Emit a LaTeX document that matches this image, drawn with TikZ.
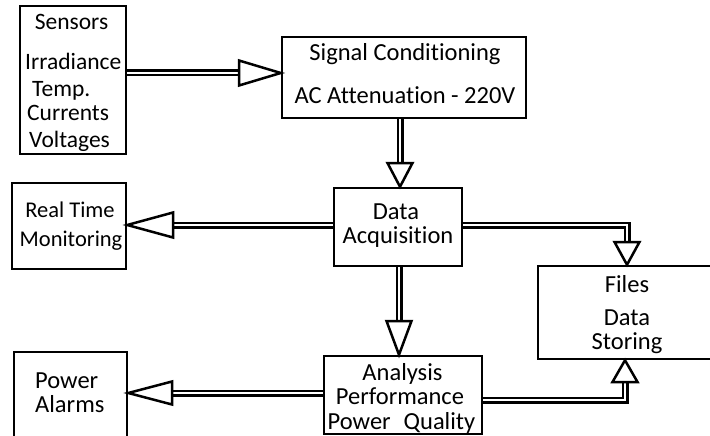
\documentclass[tikz,border=0pt]{standalone}
\usepackage{fontspec}
\setmainfont{Carlito}[Ligatures={NoCommon}]
\usetikzlibrary{calc}
\begin{document}
\begin{tikzpicture}[x=1pt,y=-1pt,
  box/.style={draw,line width=2.5pt,inner sep=0pt,minimum width=#1},
  txt/.style={inner sep=0pt,anchor=base,font=\fontsize{24.5}{26}\selectfont},
  txtw/.style={txt,anchor=base west},
  small/.style={font=\fontsize{23.5}{25}\selectfont},
  smaller/.style={font=\fontsize{22.5}{24}\selectfont},
  shaft/.style={draw,double=white,double distance=2pt,line width=2.5pt},
  headst/.style={draw,fill=white,line width=2.5pt,line join=miter}]
\useasboundingbox[fill=white] (0,0) rectangle (710,436);
% boxes
\node[box=106pt,minimum height=148pt] (sens)  at (73,80)    {};
\node[box=244pt,minimum height=81pt]  (sig)   at (404,77.5) {};
\node[box=114pt,minimum height=86pt]  (rtm)   at (69,226)   {};
\node[box=128pt,minimum height=78pt]  (da)    at (398,227)  {};
\node[box=178pt,minimum height=93pt]  (files) at (627,312.5){};
\node[box=158pt,minimum height=78pt]  (ana)   at (403,395)  {};
\node[box=113pt,minimum height=86pt]  (pa)    at (70.5,395) {};
% texts
\node[txt,small]  (sens0) at (71.5,30) {Sensors};
\node[txtw,small] (sens1) at (25,70)   {Irradiance};
\node[txtw,small] (sens2) at (32,96)   {Temp.};
\node[txtw,small] (sens3) at (27,121)  {Currents};
\node[txtw,small] (sens4) at (29,147)  {Voltages};
\node[txt]  (sig1)  at (405,61)  {Signal Conditioning};
\node[txt]  (sig2)  at (405,103) {AC Attenuation - 220V};
\node[txt,smaller]  (rtm1)  at (70,217)  {Real Time};
\node[txt,smaller]  (rtm2)  at (71,246)  {Monitoring};
\node[txt]  (da1)   at (396,219) {Data};
\node[txt]  (da2)   at (398,243) {Acquisition};
\node[txt]  (fil1)  at (627,292) {Files};
\node[txt]  (fil2)  at (627,325) {Data};
\node[txt]  (fil3)  at (627,349) {Storing};
\node[txt]  (ana1)  at (402.5,380) {Analysis};
\node[txt]  (ana2)  at (400,404.5) {Performance};
\node[txt]  (ana3)  at (401.5,429) {Power\hspace{0.3em} Quality};
\node[txtw] (pa1)   at (35,388)  {Power};
\node[txtw] (pa2)   at (35,412)  {Alarms};
% head bases
\coordinate (h1) at (239,73);
\coordinate (h2) at (400,163);
\coordinate (h3) at (173,225);
\coordinate (c4) at (627,225);
\coordinate (h4) at (627,242);
\coordinate (h5) at (399,321);
\coordinate (h6) at (172,393);
\coordinate (c7) at (625,400);
\coordinate (h7) at (625,382);
% 1 sensors -> signal conditioning
\draw[shaft] (sens.east |- h1) -- (h1);
\draw[headst] ($(h1)+(0,-12.5)$) -- (sig.west |- h1) -- ($(h1)+(0,12.5)$) -- cycle;
% 2 signal conditioning -> data acquisition
\draw[shaft] (sig.south -| h2) -- (h2);
\draw[headst] ($(h2)+(-12.5,0)$) -- (da.north -| h2) -- ($(h2)+(12.5,0)$) -- cycle;
% 3 data acquisition -> real time monitoring
\draw[shaft] (da.west |- h3) -- (h3);
\draw[headst] ($(h3)+(0,-12.5)$) -- (rtm.east |- h3) -- ($(h3)+(0,12.5)$) -- cycle;
% 4 data acquisition -> files
\draw[shaft] (da.east |- c4) -- (c4) -- (h4);
\draw[headst] ($(h4)+(-12.5,0)$) -- (files.north -| h4) -- ($(h4)+(12.5,0)$) -- cycle;
% 5 data acquisition -> analysis
\draw[shaft] (da.south -| h5) -- (h5);
\draw[headst] ($(h5)+(-12.5,0)$) -- (ana.north -| h5) -- ($(h5)+(12.5,0)$) -- cycle;
% 6 analysis -> power alarms
\draw[shaft] (ana.west |- h6) -- (h6);
\draw[headst] ($(h6)+(0,-11.5)$) -- (pa.east |- h6) -- ($(h6)+(0,11.5)$) -- cycle;
% 7 analysis -> files
\draw[shaft] (ana.east |- c7) -- (c7) -- (h7);
\draw[headst] ($(h7)+(-12.5,0)$) -- (files.south -| h7) -- ($(h7)+(12.5,0)$) -- cycle;
\end{tikzpicture}
\end{document}
